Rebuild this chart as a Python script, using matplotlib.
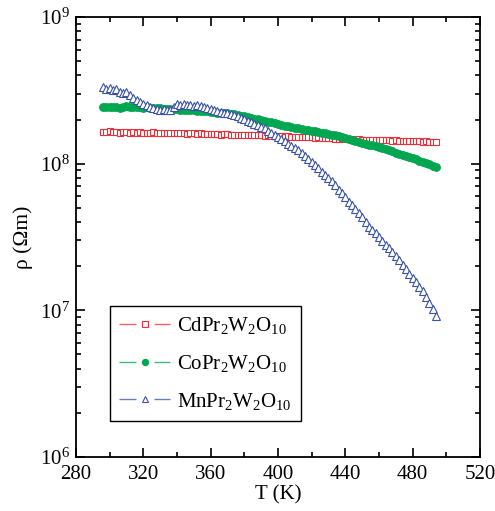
import matplotlib
matplotlib.use("Agg")
import matplotlib.pyplot as plt
from matplotlib.lines import Line2D
from matplotlib.ticker import MultipleLocator, LogLocator, NullFormatter

plt.rcParams['font.family'] = ['Liberation Serif', 'DejaVu Serif']
plt.rcParams['mathtext.fontset'] = 'custom'
plt.rcParams['mathtext.rm'] = 'Liberation Serif'
plt.rcParams['mathtext.it'] = 'Liberation Serif:italic'

# temperature grid (K)
T = [296, 298, 300, 302, 304, 306, 308, 310, 312, 314,
     316, 318, 320, 322, 324, 326, 328, 330, 332, 334,
     336, 338, 340, 342, 344, 346, 348, 350, 352, 354,
     356, 358, 360, 362, 364, 366, 368, 370, 372, 374,
     376, 378, 380, 382, 384, 386, 388, 390, 392, 394,
     396, 398, 400, 402, 404, 406, 408, 410, 412, 414,
     416, 418, 420, 422, 424, 426, 428, 430, 432, 434,
     436, 438, 440, 442, 444, 446, 448, 450, 452, 454,
     456, 458, 460, 462, 464, 466, 468, 470, 472, 474,
     476, 478, 480, 482, 484, 486, 488, 490, 492, 494]

# resistivity in units of 1e8 Ohm m
rho_cd = [1.65, 1.64, 1.66, 1.65, 1.64, 1.63, 1.64, 1.65, 1.63, 1.64,
          1.63, 1.64, 1.63, 1.62, 1.63, 1.64, 1.62, 1.63, 1.62, 1.63,
          1.62, 1.61, 1.62, 1.61, 1.62, 1.60, 1.61, 1.61, 1.60, 1.61,
          1.60, 1.59, 1.60, 1.60, 1.59, 1.58, 1.59, 1.59, 1.58, 1.58,
          1.58, 1.57, 1.58, 1.57, 1.56, 1.57, 1.56, 1.56, 1.55, 1.56,
          1.55, 1.55, 1.54, 1.55, 1.53, 1.54, 1.53, 1.52, 1.53, 1.52,
          1.52, 1.51, 1.52, 1.50, 1.51, 1.50, 1.49, 1.50, 1.49, 1.48,
          1.48, 1.49, 1.47, 1.48, 1.47, 1.46, 1.47, 1.46, 1.45, 1.46,
          1.45, 1.45, 1.44, 1.45, 1.44, 1.44, 1.43, 1.44, 1.43, 1.43,
          1.43, 1.42, 1.43, 1.42, 1.42, 1.41, 1.42, 1.41, 1.41, 1.41]

rho_co = [2.43, 2.44, 2.42, 2.45, 2.43, 2.41, 2.44, 2.46, 2.44, 2.43,
          2.44, 2.42, 2.41, 2.42, 2.40, 2.39, 2.39, 2.38, 2.37, 2.37,
          2.36, 2.36, 2.35, 2.34, 2.33, 2.33, 2.32, 2.31, 2.30, 2.29,
          2.28, 2.27, 2.26, 2.25, 2.23, 2.22, 2.21, 2.20, 2.18, 2.17,
          2.14, 2.12, 2.10, 2.08, 2.05, 2.03, 2.01, 1.98, 1.95, 1.93,
          1.91, 1.89, 1.86, 1.84, 1.82, 1.80, 1.78, 1.76, 1.74, 1.73,
          1.71, 1.70, 1.68, 1.67, 1.65, 1.63, 1.61, 1.59, 1.57, 1.56,
          1.54, 1.52, 1.50, 1.48, 1.46, 1.43, 1.41, 1.39, 1.37, 1.35,
          1.34, 1.32, 1.30, 1.28, 1.26, 1.24, 1.22, 1.19, 1.17, 1.15,
          1.13, 1.11, 1.09, 1.07, 1.05, 1.03, 1.01, 0.99, 0.97, 0.95]

rho_mn = [3.35, 3.25, 3.30, 3.18, 3.22, 3.10, 3.03, 3.06, 2.95, 2.82,
          2.72, 2.62, 2.55, 2.50, 2.44, 2.38, 2.35, 2.32, 2.36, 2.31,
          2.34, 2.45, 2.55, 2.52, 2.56, 2.50, 2.53, 2.48, 2.50, 2.46,
          2.42, 2.40, 2.36, 2.33, 2.28, 2.25, 2.23, 2.20, 2.17, 2.14,
          2.10, 2.05, 2.01, 1.96, 1.91, 1.87, 1.83, 1.79, 1.74, 1.68,
          1.62, 1.57, 1.52, 1.47, 1.42, 1.37, 1.33, 1.28, 1.23, 1.18,
          1.12, 1.07, 1.03, 0.98, 0.93, 0.88, 0.84, 0.80, 0.76, 0.72,
          0.66, 0.63, 0.59, 0.55, 0.52, 0.49, 0.46, 0.43, 0.40, 0.37,
          0.355, 0.335, 0.315, 0.295, 0.28, 0.265, 0.25, 0.235, 0.22, 0.205,
          0.19, 0.177, 0.165, 0.155, 0.145, 0.135, 0.124, 0.113, 0.102, 0.092]

labels = [r'CdPr$_2$W$_2$O$_{10}$', r'CoPr$_2$W$_2$O$_{10}$', r'MnPr$_2$W$_2$O$_{10}$']
colors = ['#e8303a', '#00a650', '#3953a4']

fig = plt.figure(figsize=(4.95, 5.11), dpi=100)
ax = fig.add_axes([0.1535, 0.1057, 0.8162, 0.861])

ax.plot(T, [v * 1e8 for v in rho_cd], ls='none', marker='s', ms=4.3,
        mfc='white', mec=colors[0], mew=0.8)
ax.plot(T, [v * 1e8 for v in rho_co], ls='none', marker='o', ms=5.8,
        mfc=colors[1], mec=colors[1], mew=0.5)
ax.plot(T, [v * 1e8 for v in rho_mn], ls='none', marker='^', ms=5.2,
        mfc='white', mec=colors[2], mew=0.8)

ax.set_yscale('log')
ax.set_xlim(280, 520)
ax.set_ylim(1e6, 1e9)
ax.xaxis.set_major_locator(MultipleLocator(40))
ax.xaxis.set_minor_locator(MultipleLocator(20))
ax.yaxis.set_minor_locator(LogLocator(base=10, subs=range(2, 10)))
ax.yaxis.set_minor_formatter(NullFormatter())
ax.tick_params(which='both', direction='in', top=True, right=True,
               labelsize=15, width=1.2)
ax.tick_params(which='major', length=6.5)
ax.tick_params(which='minor', length=3.6)
ax.tick_params(axis='x', which='major', pad=6)
ax.tick_params(axis='y', which='major', pad=4.5)
for s in ax.spines.values():
    s.set_linewidth(1.3)

ax.set_xlabel('T (K)', fontsize=15, labelpad=1)
ax.set_ylabel('ρ (Ωm)', fontsize=15.5, labelpad=5)

# legend proxies: line - marker - line
handles = []
mk = [('s', 'white', 3.8), ('o', colors[1], 4.5), ('^', 'white', 4.5)]
for c, (m, fc, ms) in zip(colors, mk):
    ln = Line2D([], [], color=c, lw=1.0, alpha=0.75, ls=(0, (12.2, 13)))
    mrk = Line2D([], [], ls='none', marker=m, ms=ms, mfc=fc, mec=c, mew=0.8)
    handles.append((ln, mrk))

leg = ax.legend(handles, labels, loc='lower left', bbox_to_anchor=(0.084, 0.082),
                borderaxespad=0, fontsize=15, handlelength=2.45, handletextpad=0.34,
                labelspacing=0.8, borderpad=0.45, fancybox=False, framealpha=1,
                edgecolor='black')
leg.get_frame().set_linewidth(1.0)

fig.savefig('out.png', dpi=100)
